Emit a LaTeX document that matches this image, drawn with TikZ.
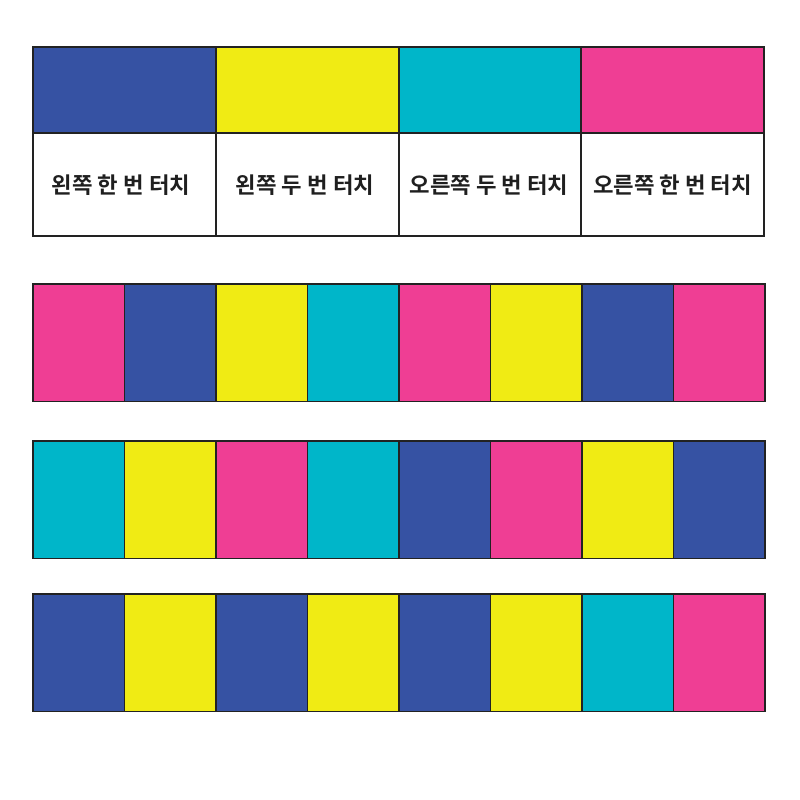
\documentclass[tikz,border=0pt]{standalone}
\usepackage{fontspec}
\newfontfamily\kr{Noto Sans CJK KR Bold}
\definecolor{cB}{HTML}{3652A3}
\definecolor{cY}{HTML}{F0EB14}
\definecolor{cC}{HTML}{00B6C9}
\definecolor{cM}{HTML}{EF3E94}
\definecolor{edge}{HTML}{222222}
\begin{document}
\begin{tikzpicture}[x=1pt,y=-1pt,
  cell/.style={draw=edge,line width=1.5pt},
  lbl/.style={font=\kr\fontsize{22.3}{25}\selectfont,text=black!88}]
\useasboundingbox (0,0) rectangle (800,800);
\fill[white] (0,0) rectangle (800,800);
% top table
\foreach \xa/\xb/\c in {33/216/cB,216/399/cY,399/581/cC,581/764/cM}{
  \path[cell,fill=\c] (\xa,47) rectangle (\xb,133);
  \path[cell,fill=white] (\xa,133) rectangle (\xb,236);
}
\foreach \x in {216,399,581}{
  \draw[cell] (\x,47) -- (\x,236);
}
\node[lbl] (t1) at (121,185) {왼쪽 한 번 터치};
\node[lbl] (t2) at (305,185) {왼쪽 두 번 터치};
\node[lbl] (t3) at (489,185) {오른쪽 두 번 터치};
\node[lbl] (t4) at (672.6,185) {오른쪽 한 번 터치};
% rows
\foreach \y/\list in {284/{cM,cB,cY,cC,cM,cY,cB,cM},441/{cC,cY,cM,cC,cB,cM,cY,cB},594/{cB,cY,cB,cY,cB,cY,cC,cM}}{
  \foreach \c [count=\i from 0] in \list{
    \pgfmathsetmacro\xa{33+91.5*\i}
    \pgfmathsetmacro\xb{33+91.5*(\i+1)}
    \path[cell,fill=\c] (\xa,\y) rectangle (\xb,\y+117.5);
  }
}
\end{tikzpicture}
\end{document}
